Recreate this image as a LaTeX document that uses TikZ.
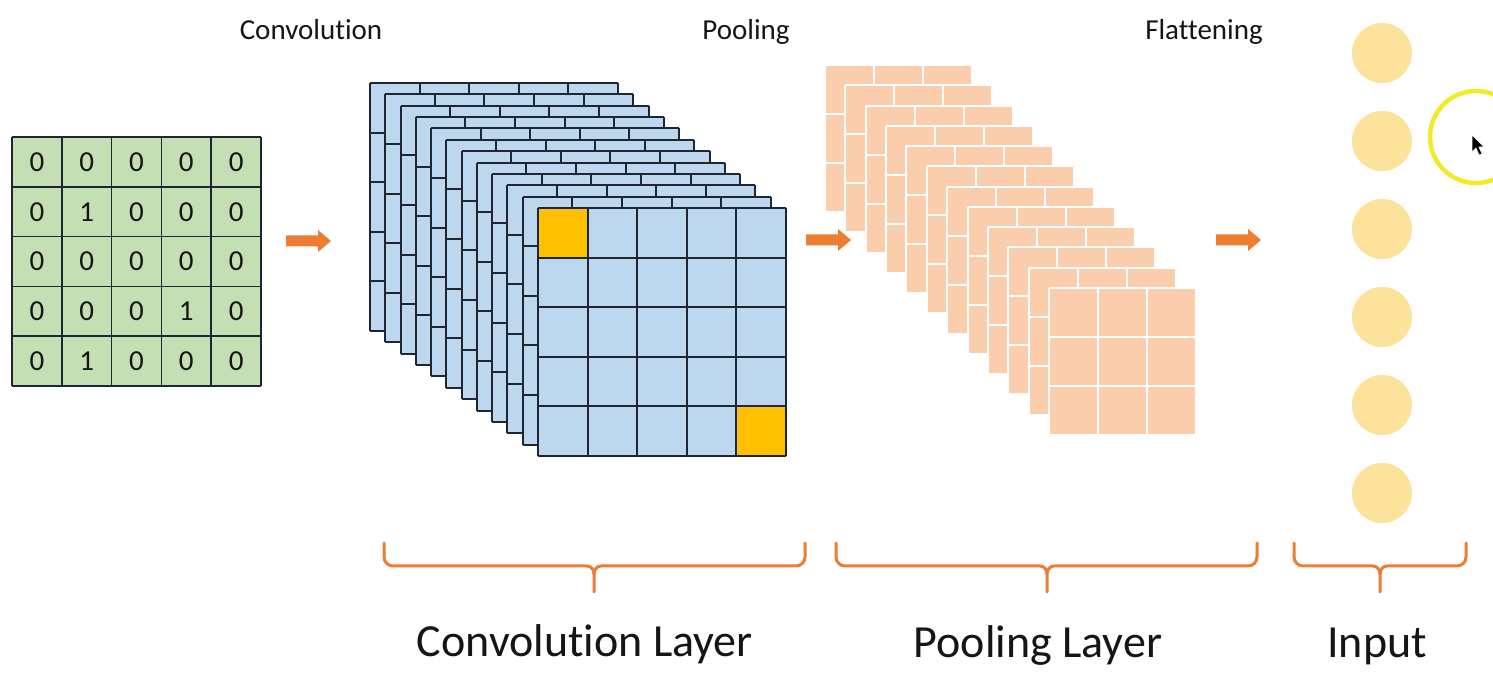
\documentclass[tikz,border=0pt]{standalone}
\usepackage{fontspec}
\setmainfont{Carlito}[Ligatures=NoCommon]
\definecolor{orng}{HTML}{ED7D31}
\definecolor{convfill}{HTML}{BDD7EE}
\definecolor{poolfill}{HTML}{FACDAC}
\definecolor{greenfill}{HTML}{C5DFB4}
\definecolor{hot}{HTML}{FFC000}
\definecolor{inpfill}{HTML}{FDE29B}
\definecolor{gridc}{HTML}{1E2633}
\definecolor{txt}{HTML}{151515}
\definecolor{hilite}{HTML}{F2EA22}
\newcommand{\brc}[3]{%
  \draw[bracestyle] (#1,543) -- (#1,557) to[out=-90,in=180] ({#1+9},566) -- ({#2-7},566) to[out=0,in=90] (#2,574) -- (#2,592);
  \draw[bracestyle] (#3,543) -- (#3,557) to[out=-90,in=0] ({#3-9},566) -- ({#2+7},566) to[out=180,in=90] (#2,574);
}
\newcommand{\blockarrow}[2]{%
  \fill[orng] (#1,{#2-5.5}) -- ({#1+32},{#2-5.5}) -- ({#1+32},{#2-11}) -- ({#1+45},#2) -- ({#1+32},{#2+11}) -- ({#1+32},{#2+5.5}) -- (#1,{#2+5.5}) -- cycle;
}
\begin{document}
\begin{tikzpicture}[x=0.5pt,y=-0.5pt,
  bracestyle/.style={draw=orng,line width=1.5pt,line cap=round},
  toplabel/.style={anchor=base,text=txt,font=\fontsize{14.5}{17}\selectfont,inner sep=0},
  botlabel/.style={anchor=base,text=txt,font=\fontsize{23}{27}\selectfont,inner sep=0},
  digit/.style={text=txt,font=\fontsize{14.5}{17}\selectfont,inner sep=0},
  inputnode/.style={circle,fill=inpfill,minimum size=30pt,inner sep=0}]
\fill[white] (0,0) rectangle (1493,688);
\useasboundingbox (0,0) rectangle (1493,688);

% ---- input matrix
\fill[greenfill] (12,137) rectangle (261,386);
\foreach \t in {0,...,5} {
  \draw[gridc,line width=0.8pt] ({12+49.8*\t},137) -- ({12+49.8*\t},386);
  \draw[gridc,line width=0.8pt] (12,{137+49.8*\t}) -- (261,{137+49.8*\t});
}
\foreach \row [count=\i from 0] in {{0,0,0,0,0},{0,1,0,0,0},{0,0,0,0,0},{0,0,0,1,0},{0,1,0,0,0}} {
  \foreach \v [count=\j from 0] in \row {
    \node[digit] (m-\i-\j) at ({12+24.9+49.8*\j},{137+24.9+49.8*\i}) {\v};
  }
}

% ---- convolution stack
\foreach \k in {0,...,11} {
  \pgfmathsetmacro\cx{370+15.27*\k}
  \pgfmathsetmacro\cy{83+11.36*\k}
  \begin{scope}[shift={(\cx,\cy)}]
    \fill[convfill] (0,0) rectangle (248,248);
    \ifnum\k=11
      \fill[hot] (0,0) rectangle (49.6,49.6);
      \fill[hot] (198.4,198.4) rectangle (248,248);
    \fi
    \foreach \t in {0,...,5} {
      \draw[gridc,line width=1pt] ({49.6*\t},0) -- ({49.6*\t},248);
      \draw[gridc,line width=1pt] (0,{49.6*\t}) -- (248,{49.6*\t});
    }
  \end{scope}
}

% ---- pooling stack
\foreach \k in {0,...,11} {
  \pgfmathsetmacro\px{825+20.36*\k}
  \pgfmathsetmacro\py{65+20.27*\k}
  \begin{scope}[shift={(\px,\py)}]
    \fill[poolfill] (0,0) rectangle (147,147);
    \foreach \t in {0,...,3} {
      \draw[white,line width=1pt] ({49*\t},0) -- ({49*\t},147);
      \draw[white,line width=1pt] (0,{49*\t}) -- (147,{49*\t});
    }
  \end{scope}
}

% ---- block arrows
\blockarrow{286}{241}
\blockarrow{806}{240}
\blockarrow{1216}{240}

% ---- input neurons
\foreach \n in {1,...,6} {
  \node[inputnode] (c\n) at (1382,{53+88*(\n-1)}) {};
}

% ---- highlight and cursor
\draw[hilite,line width=2.2pt] (1476,137) circle[radius=46];
\fill[black,draw=white,line width=0.3pt] (1472,135) -- (1472,152) -- (1476,148) -- (1479,155) -- (1482,154) -- (1479,147) -- (1484,147) -- cycle;

% ---- top labels
\node[toplabel] (tconv) at (311,40) {Convolution};
\node[toplabel] (tpool) at (746,40) {Pooling};
\node[toplabel] (tflat) at (1204,40) {Flattening};

% ---- braces
\brc{384}{594}{805}
\brc{836}{1047}{1257}
\brc{1294}{1380}{1466}

% ---- bottom labels
\node[botlabel] (lconv) at (585,657) {Convolution Layer};
\node[botlabel] (lpool) at (1038,658) {Pooling Layer};
\node[botlabel] (linp) at (1377,658) {Input};
\end{tikzpicture}
\end{document}
